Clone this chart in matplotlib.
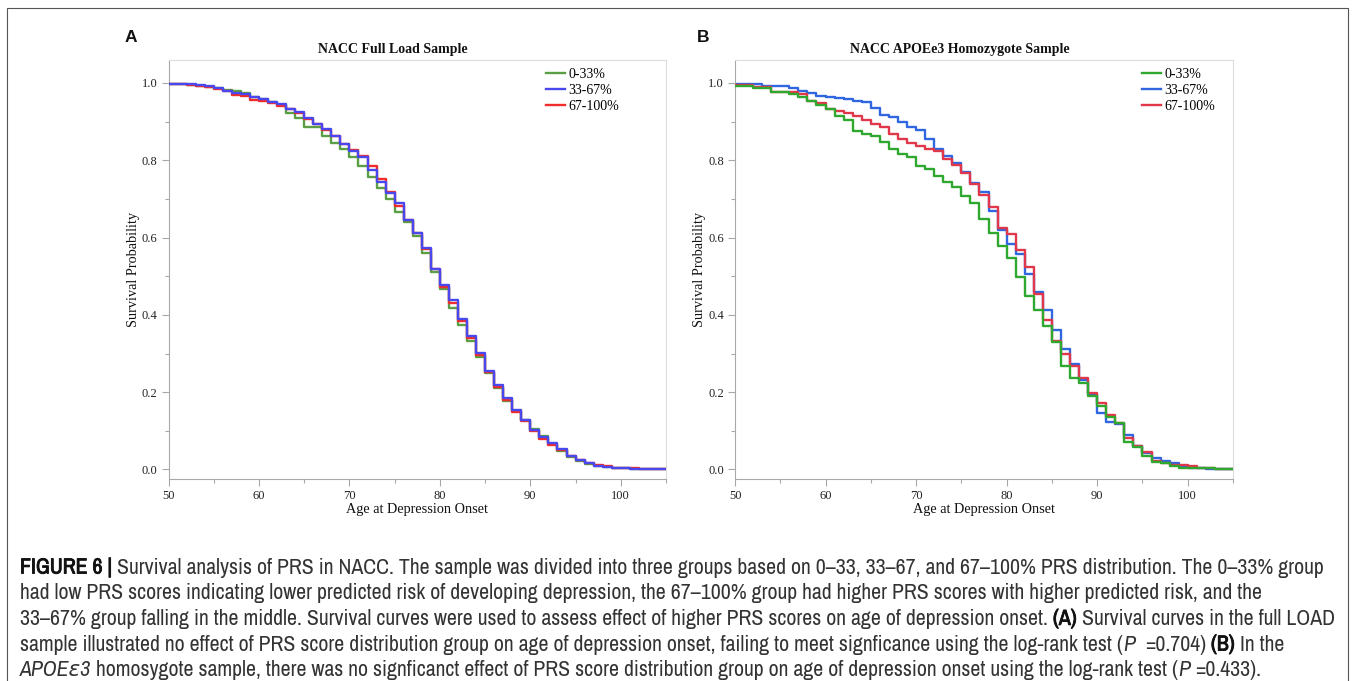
import matplotlib
matplotlib.use('Agg')
import matplotlib.pyplot as plt
import matplotlib.patheffects as pe
from matplotlib import font_manager
from matplotlib.patches import Rectangle
from matplotlib.ticker import MultipleLocator

# survival step values, one per year of age (50..104)
ages = list(range(50, 105))
groups = ['0-33%', '33-67%', '67-100%']

full_low = [0.998, 0.997, 0.995, 0.993, 0.990, 0.986, 0.982, 0.978, 0.973, 0.965,
            0.958, 0.951, 0.943, 0.922, 0.909, 0.887, 0.886, 0.862, 0.846, 0.828,
            0.808, 0.784, 0.756, 0.729, 0.700, 0.667, 0.641, 0.605, 0.560, 0.512,
            0.466, 0.418, 0.374, 0.333, 0.292, 0.250, 0.212, 0.178, 0.151, 0.129,
            0.104, 0.086, 0.067, 0.048, 0.033, 0.022, 0.015, 0.010, 0.007, 0.005,
            0.003, 0.002, 0.002, 0.001, 0.001]
full_mid = [0.998, 0.997, 0.997, 0.994, 0.991, 0.986, 0.980, 0.975, 0.972, 0.963,
            0.958, 0.952, 0.945, 0.933, 0.924, 0.909, 0.894, 0.880, 0.863, 0.842,
            0.825, 0.808, 0.775, 0.745, 0.716, 0.689, 0.645, 0.611, 0.572, 0.520,
            0.477, 0.439, 0.389, 0.345, 0.301, 0.256, 0.218, 0.184, 0.154, 0.128,
            0.102, 0.083, 0.068, 0.052, 0.035, 0.025, 0.016, 0.010, 0.007, 0.005,
            0.003, 0.002, 0.002, 0.001, 0.001]
full_high = [0.998, 0.997, 0.996, 0.993, 0.990, 0.985, 0.978, 0.970, 0.966, 0.957,
             0.953, 0.947, 0.941, 0.932, 0.922, 0.907, 0.894, 0.879, 0.862, 0.842,
             0.827, 0.810, 0.785, 0.752, 0.719, 0.683, 0.645, 0.611, 0.570, 0.518,
             0.472, 0.430, 0.383, 0.340, 0.296, 0.252, 0.214, 0.180, 0.150, 0.125,
             0.099, 0.080, 0.064, 0.050, 0.034, 0.024, 0.017, 0.011, 0.008, 0.005,
             0.004, 0.003, 0.002, 0.001, 0.001]

apoe_low = [0.992, 0.992, 0.986, 0.986, 0.976, 0.976, 0.971, 0.965, 0.954, 0.943,
            0.932, 0.915, 0.903, 0.876, 0.868, 0.864, 0.848, 0.829, 0.816, 0.809,
            0.785, 0.777, 0.759, 0.745, 0.732, 0.708, 0.690, 0.649, 0.611, 0.577,
            0.546, 0.499, 0.450, 0.413, 0.371, 0.330, 0.268, 0.238, 0.223, 0.189,
            0.164, 0.137, 0.120, 0.072, 0.057, 0.035, 0.020, 0.016, 0.010, 0.005,
            0.005, 0.003, 0.003, 0.002, 0.002]
apoe_mid = [0.997, 0.997, 0.997, 0.993, 0.993, 0.993, 0.986, 0.979, 0.973, 0.966,
            0.963, 0.960, 0.958, 0.954, 0.950, 0.935, 0.916, 0.911, 0.900, 0.885,
            0.878, 0.855, 0.828, 0.811, 0.792, 0.771, 0.742, 0.719, 0.670, 0.620,
            0.584, 0.558, 0.505, 0.459, 0.413, 0.361, 0.312, 0.273, 0.232, 0.195,
            0.145, 0.124, 0.118, 0.089, 0.061, 0.043, 0.029, 0.023, 0.016, 0.007,
            0.005, 0.003, 0.002, 0.002, 0.002]
apoe_high = [0.995, 0.995, 0.990, 0.990, 0.977, 0.977, 0.977, 0.971, 0.954, 0.949,
             0.934, 0.928, 0.923, 0.915, 0.903, 0.893, 0.887, 0.868, 0.855, 0.846,
             0.837, 0.828, 0.825, 0.804, 0.788, 0.766, 0.739, 0.710, 0.678, 0.624,
             0.609, 0.568, 0.523, 0.453, 0.388, 0.333, 0.299, 0.268, 0.236, 0.197,
             0.171, 0.141, 0.120, 0.081, 0.060, 0.046, 0.023, 0.016, 0.012, 0.012,
             0.010, 0.005, 0.003, 0.002, 0.002]

caption = [
    [("FIGURE 6 | ", "bold", "normal"),
     ("Survival analysis of PRS in NACC. The sample was divided into three groups based on 0\u201333, 33\u201367, and 67\u2013100% PRS distribution. The 0\u201333% group", "normal", "normal")],
    [("had low PRS scores indicating lower predicted risk of developing depression, the 67\u2013100% group had higher PRS scores with higher predicted risk, and the", "normal", "normal")],
    [("33\u201367% group falling in the middle. Survival curves were used to assess effect of higher PRS scores on age of depression onset. ", "normal", "normal"),
     ("(A) ", "bold", "normal"),
     ("Survival curves in the full LOAD", "normal", "normal")],
    [("sample illustrated no effect of PRS score distribution group on age of depression onset, failing to meet signficance using the log-rank test (", "normal", "normal"),
     ("P", "normal", "italic"),
     ("  =0.704) ", "normal", "normal"),
     ("(B) ", "bold", "normal"),
     ("In the", "normal", "normal")],
    [("APOE\u03b53", "normal", "italic"),
     (" homosygote sample, there was no signficanct effect of PRS score distribution group on age of depression onset using the log-rank test (", "normal", "normal"),
     ("P", "normal", "italic"),
     (" =0.433).", "normal", "normal")],
]

W, H = 1355, 681
fig = plt.figure(figsize=(W / 100, H / 100), dpi=100)
serif = 'Liberation Serif'


def fx(px):
    return px / W


def fy(py):
    return 1 - py / H


def weight_num(w):
    if isinstance(w, int):
        return w
    return {'bold': 700, 'semibold': 600, 'demibold': 600, 'heavy': 800, 'black': 900,
            'extra bold': 800}.get(str(w).lower(), 400)


def pick_caption_font():
    fl = font_manager.fontManager.ttflist
    first = None
    for f in fl:
        n = f.name
        if ('Narrow' in n or 'Condensed' in n) and 'Mono' not in n and 'Serif' not in n:
            first = n
            break
    if first is None:
        return 'Liberation Sans', True
    bold = any(f.name == first and weight_num(f.weight) >= 600 for f in fl)
    return first, bold


cap_font, cap_has_bold = pick_caption_font()
cap_family = [cap_font, 'DejaVu Sans']

# outer frame
fig.patches.append(Rectangle((fx(7), fy(690)), fx(1348 - 7), (690 - 8) / H,
                             transform=fig.transFigure, fill=False,
                             edgecolor='#555555', linewidth=0.8))


def panel(left, right, title, title_x, letter, letter_x, series, colors, order, leg_x):
    ax = fig.add_axes([fx(left), fy(478.5), fx(right - left), (478.5 - 60) / H])
    xs = ages + [105]
    for i in order:
        ys = series[i] + [series[i][-1]]
        ax.step(xs, ys, where='post', color=colors[i], lw=1.7, label=groups[i], zorder=2 + order.index(i))
    ax.set_xlim(50, 105)
    ax.set_ylim(-0.0233, 1.0595)
    ax.xaxis.set_major_locator(MultipleLocator(10))
    ax.xaxis.set_minor_locator(MultipleLocator(5))
    ax.yaxis.set_minor_locator(MultipleLocator(0.1))
    ax.set_yticks([0, 0.2, 0.4, 0.6, 0.8, 1.0])
    ax.set_yticklabels(['0.0', '0.2', '0.4', '0.6', '0.8', '1.0'])
    ax.tick_params(which='major', direction='out', length=5, width=0.8, color='#a8a8a8',
                   labelsize=9, pad=3, labelcolor='#222222')
    ax.tick_params(which='minor', direction='out', length=3, width=0.8, color='#a8a8a8')
    for lab in ax.get_xticklabels() + ax.get_yticklabels():
        lab.set_fontfamily(serif)
    for s in ['left', 'bottom']:
        ax.spines[s].set_color('#a8a8a8')
    for s in ['top', 'right']:
        ax.spines[s].set_color('#dddddd')
    ax.set_xlabel('Age at Depression Onset', fontfamily=serif, fontsize=10.3, labelpad=1, color='#111111')
    ax.set_ylabel('Survival Probability', fontfamily=serif, fontsize=10.3, labelpad=1.5, color='#111111')
    handles, labels = ax.get_legend_handles_labels()
    hmap = dict(zip(labels, handles))
    ax.legend([hmap[g] for g in groups], groups, loc='upper left',
              bbox_to_anchor=(fx(leg_x), fy(68)), bbox_transform=fig.transFigure,
              frameon=False, borderpad=0, borderaxespad=0, handlelength=1.4,
              handletextpad=0.2, labelspacing=0.22, prop={'family': serif, 'size': 10})
    fig.text(fx(title_x), fy(49.5), title, ha='center', va='center', fontfamily=serif,
             fontsize=10, fontweight='bold', color='#111111')
    fig.text(fx(letter_x), fy(38), letter, ha='center', va='center', fontfamily='Liberation Sans',
             fontsize=12.5, fontweight='bold', color='#111111')
    return ax


panel(168.5, 666, 'NACC Full Load Sample', 393, 'A', 131,
      [full_low, full_mid, full_high], ['#5a9e46', '#4848ee', '#f02c2c'], [0, 2, 1], 546)
panel(735, 1233, 'NACC APOEe3 Homozygote Sample', 960, 'B', 703,
      [apoe_low, apoe_mid, apoe_high], ['#2ea82e', '#3066e0', '#e0384a'], [1, 2, 0], 1142)

# caption, drawn run by run
renderer = fig.canvas.get_renderer()


def text_width(s, size, weight, style):
    t = fig.text(0, 0, s, fontfamily=cap_family, fontsize=size, fontweight=weight,
                 fontstyle=style)
    w = t.get_window_extent(renderer).width
    t.remove()
    return w


def line_width(runs, size):
    sp = text_width('x x', size, 'normal', 'normal') - text_width('xx', size, 'normal', 'normal')
    total = 0
    for s, wt, st in runs:
        core = s.strip(' ')
        lead = len(s) - len(s.lstrip(' '))
        trail = len(s) - len(s.rstrip(' '))
        total += lead * sp + (text_width(core, size, wt, st) if core else 0) + trail * sp
    return total


cap_size = 11.5
for _ in range(2):
    r1 = (1338 - 20) / line_width(caption[0], cap_size)
    r3 = (1340 - 20) / line_width(caption[2], cap_size)
    cap_size *= min(r1, r3)

space = text_width('x x', cap_size, 'normal', 'normal') - text_width('xx', cap_size, 'normal', 'normal')
y0 = 567.5
for k, runs in enumerate(caption):
    x = 20
    y = y0 + k * 25.7
    for s, wt, st in runs:
        core = s.strip(' ')
        lead = len(s) - len(s.lstrip(' '))
        trail = len(s) - len(s.rstrip(' '))
        x += lead * space
        if core:
            col = '#111111' if wt == 'bold' else '#333333'
            t = fig.text(fx(x), fy(y), core, ha='left', va='center', fontfamily=cap_family,
                         fontsize=cap_size, fontweight=wt, fontstyle=st, color=col)
            if wt == 'bold' and not cap_has_bold:
                t.set_path_effects([pe.withStroke(linewidth=0.6, foreground=col)])
            x += text_width(core, cap_size, wt, st)
        x += trail * space

fig.savefig('out.png', dpi=100)
